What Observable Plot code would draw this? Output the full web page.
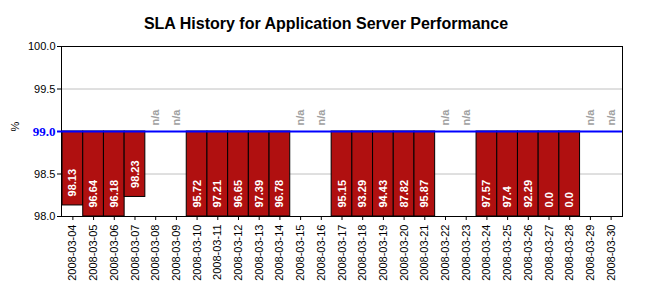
<!DOCTYPE html>
<html>
<head>
<meta charset="utf-8">
<script src="https://cdn.jsdelivr.net/npm/d3@7"></script>
<script src="https://cdn.jsdelivr.net/npm/@observablehq/plot@0.6"></script>
<style>
  body { margin: 0; background: #fff; }
  svg { display: block; }
</style>
</head>
<body>
<div id="chart"></div>
<script>
const title = "SLA History for Application Server Performance";
const dates = [
  "2008-03-04","2008-03-05","2008-03-06","2008-03-07","2008-03-08","2008-03-09",
  "2008-03-10","2008-03-11","2008-03-12","2008-03-13","2008-03-14","2008-03-15",
  "2008-03-16","2008-03-17","2008-03-18","2008-03-19","2008-03-20","2008-03-21",
  "2008-03-22","2008-03-23","2008-03-24","2008-03-25","2008-03-26","2008-03-27",
  "2008-03-28","2008-03-29","2008-03-30"
];
const values = [
  98.13, 96.64, 96.18, 98.23, null, null,
  95.72, 97.21, 96.65, 97.39, 96.78, null,
  null, 95.15, 93.29, 94.43, 87.82, 95.87,
  null, null, 97.57, 97.4, 92.29, 0.0,
  0.0, null, null
];
const target = 99.0;
const yTicks = [98.0, 98.5, 99.0, 99.5, 100.0];
const yDomain = [98.0, 100.0];

const rows = dates.map((d, i) => ({date: d, value: values[i]}));
const present = rows.filter(r => r.value !== null);
const missing = rows.filter(r => r.value === null);
const fmt = v => Number.isInteger(v) ? v.toFixed(1) : String(v);
const font = "Arial, 'Liberation Sans', sans-serif";

const plot = Plot.plot({
  width: 651,
  height: 291,
  marginTop: 46,
  marginBottom: 75,
  marginLeft: 61,
  marginRight: 29,
  style: {fontFamily: font, fontSize: "11px", background: "#fff", color: "#000"},
  x: {type: "band", domain: dates, paddingInner: 0, paddingOuter: 0.05, round: false, label: null},
  y: {domain: yDomain, label: null},
  marks: [
    Plot.gridY(yTicks, {stroke: "#c0c0c0", strokeOpacity: 1}),
    Plot.barY(present, {
      x: "date", y1: target, y2: d => Math.max(d.value, yDomain[0]),
      fill: "#b01010", stroke: "#000", strokeWidth: 1, inset: 0
    }),
    Plot.text(present, {
      x: "date", y: d => Math.max(d.value, yDomain[0]), text: d => fmt(d.value),
      rotate: -90, textAnchor: "start", dy: -9, fill: "#fff", fontWeight: "bold",
      fontSize: 11, fontFamily: font
    }),
    Plot.text(missing, {
      x: "date", y: () => target, text: () => "n/a",
      rotate: -90, textAnchor: "start", dy: -6, fill: "#a0a0a0", fontWeight: "bold",
      fontSize: 11, fontFamily: font
    }),
    Plot.frame({stroke: "#000", strokeWidth: 1}),
    Plot.axisY({ticks: yTicks, tickSize: 4, tickPadding: 2,
      stroke: d => d === target ? "#0000ff" : "#000",
      strokeWidth: d => d === target ? 2 : 1,
      tickFormat: v => v === target ? "" : v.toFixed(1), fontSize: 11, label: null}),
    Plot.ruleY([target], {stroke: "#0000ff", strokeWidth: 2}),
    Plot.text([target], {
      y: d => d, text: d => d.toFixed(1), frameAnchor: "left", dx: -6, textAnchor: "end",
      fill: "#0000ff", fontWeight: "bold", fontSize: 13, fontFamily: "'Liberation Serif', 'Times New Roman', serif"
    }),
    Plot.axisX({tickRotate: -90, tickSize: 4, tickPadding: 4, fontSize: 11, label: null}),
    Plot.text(["%"], {
      frameAnchor: "left", dx: -46, rotate: -90, text: d => d, fontSize: 11, fill: "#000"
    }),
    Plot.text([title], {
      frameAnchor: "top", dy: -29, dx: -16, text: d => d, fontSize: 16, fontWeight: "bold",
      fill: "#000", fontFamily: font
    })
  ]
});
document.getElementById("chart").append(plot);
</script>
</body>
</html>
